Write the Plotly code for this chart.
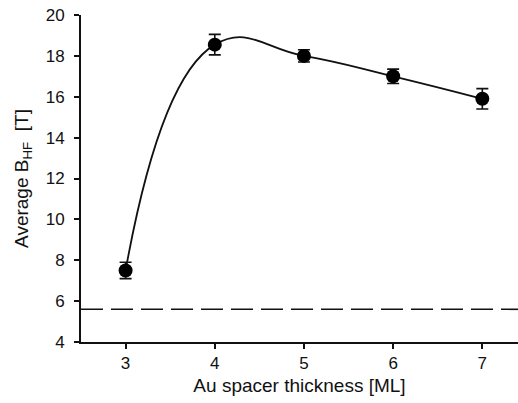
import plotly.graph_objects as go

thickness = [3, 4, 5, 6, 7]
b_hf = [7.5, 18.55, 18.0, 17.0, 15.9]
b_err = [0.4, 0.5, 0.3, 0.35, 0.5]
reference_level = 5.6
y_ticks = [4, 6, 8, 10, 12, 14, 16, 18, 20]
x_ticks = [3, 4, 5, 6, 7]

fig = go.Figure()
fig.add_trace(go.Scatter(
    x=thickness, y=b_hf, mode="lines",
    line=dict(color="#111111", width=1.8, shape="spline", smoothing=1.3),
    hoverinfo="skip", showlegend=False))
fig.add_trace(go.Scatter(
    x=thickness, y=b_hf, mode="markers",
    marker=dict(color="black", size=14),
    error_y=dict(type="data", array=b_err, visible=True, color="#111111", thickness=1.6, width=6),
    showlegend=False))
fig.add_hline(y=reference_level, line=dict(color="#111111", width=1.6, dash="22px,8px"))

font = dict(family="Liberation Sans, Arial, sans-serif", size=16, color="#111111")
tickfont = dict(family="Liberation Sans, Arial, sans-serif", size=17, color="#111111")
fig.update_layout(
    width=518, height=403,
    margin=dict(l=81, r=0, t=15, b=61, autoexpand=False),
    plot_bgcolor="white", paper_bgcolor="white",
    font=font,
    xaxis=dict(range=[2.5, 7.4], tickvals=x_ticks, ticks="outside", ticklen=5, tickwidth=1.5,
               tickcolor="#111111", showline=True, linecolor="#111111", linewidth=1.8,
               showgrid=False, zeroline=False, tickfont=tickfont, automargin=False,
               title=dict(text="Au spacer thickness [ML]", standoff=6)),
    yaxis=dict(range=[4, 20], tickvals=y_ticks, ticks="outside", ticklen=5, tickwidth=1.5,
               tickcolor="#111111", showline=True, linecolor="#111111", linewidth=1.8,
               showgrid=False, zeroline=False, tickfont=tickfont, ticklabelstandoff=6,
               automargin=False,
               title=dict(text="Average B<sub>HF</sub>  [T]", standoff=12)),
)
fig.write_html("out.html", config={"displayModeBar": False},
               post_script="document.body.style.margin='0';document.body.style.padding='0';")
